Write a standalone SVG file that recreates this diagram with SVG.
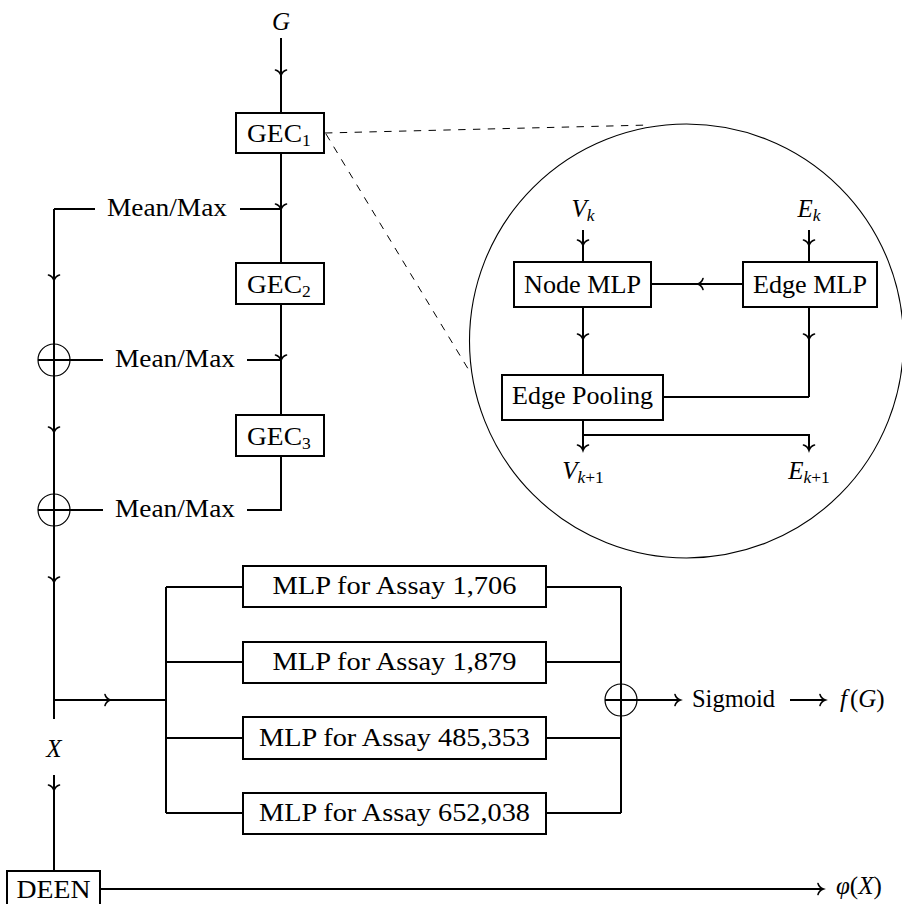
<svg xmlns="http://www.w3.org/2000/svg" width="902" height="904" viewBox="0 0 902 904">
<defs>
<marker id="ah" markerUnits="userSpaceOnUse" viewBox="-8 -8 16 16" markerWidth="16" markerHeight="16" refX="0" refY="0" orient="auto" overflow="visible">
<path d="M-5,-5.5 C-4,-2 -1.2,-0.6 0.5,0 C-1.2,0.6 -4,2 -5,5.5" fill="none" stroke="#000" stroke-width="1.6" stroke-linecap="round"/>
</marker>
</defs>
<rect width="902" height="904" fill="#fff"/>
<g id="inset">
<circle cx="686.5" cy="341" r="217" fill="none" stroke="#000" stroke-width="1.1"/>
</g>
<g id="connectors" fill="none" stroke="#000" stroke-width="2">
<g stroke-width="1" stroke-dasharray="7.4 7.4">
<path d="M325,133 L650,125"/>
<path d="M326,134 L470,372"/>
</g>
<g marker-mid="url(#ah)">
<path d="M281,38 V75 V113"/>
<path d="M281,153 V209 V263"/>
<path d="M54,209 V280 V432 V582" marker-end="url(#ah)"/>
<path d="M281,304 V360 V415"/>
<path d="M54,700 H110 H166"/>
<path d="M54,775 V790 V871"/>
<path d="M583,230 V245 V262"/>
<path d="M809,230 V245 V262"/>
<path d="M743,284 H698 H651"/>
<path d="M583,307 V339 V375"/>
<path d="M809,307 V339 V397"/>
</g>
<path d="M240,209 H281"/>
<path d="M95,209 H54"/>
<path d="M54,582 V719"/>
<path d="M247,360 H281"/>
<path d="M103,360 H38"/>
<path d="M281,456 V510 H247"/>
<path d="M103,510 H38"/>
<path d="M166,587 V813"/>
<path d="M166,587 H243 M166,662 H243 M166,738 H243 M166,813 H243"/>
<path d="M546,587 H621 M546,662 H621 M546,738 H621 M546,813 H621"/>
<path d="M621,587 V813"/>
<path d="M809,397 H663"/>
<g marker-end="url(#ah)">
<path d="M605,700 H680"/>
<path d="M790,700 H825"/>
<path d="M100,889 H823"/>
<path d="M583,420 V450"/>
<path d="M583,435 H809 V450"/>
</g>
<g stroke-width="1.2">
<circle cx="54" cy="360" r="16"/>
<circle cx="54" cy="510" r="16"/>
<circle cx="621" cy="700" r="16"/>
</g>
</g>
<g id="labels" font-family="Liberation Serif" font-size="25" fill="#000">
<text font-family="Liberation Serif" font-size="25" font-style="italic" text-anchor="middle" x="281" y="30">G</text>
<text font-family="Liberation Serif" font-size="25" text-anchor="middle" x="167" y="216" textLength="120" lengthAdjust="spacingAndGlyphs">Mean/Max</text>
<text font-family="Liberation Serif" font-size="25" text-anchor="middle" x="175" y="367" textLength="120" lengthAdjust="spacingAndGlyphs">Mean/Max</text>
<text font-family="Liberation Serif" font-size="25" text-anchor="middle" x="175" y="517" textLength="120" lengthAdjust="spacingAndGlyphs">Mean/Max</text>
<text font-family="Liberation Serif" font-size="25" font-style="italic" text-anchor="middle" x="54" y="757">X</text>
<text font-family="Liberation Serif" font-size="25" x="692" y="707" textLength="83" lengthAdjust="spacingAndGlyphs">Sigmoid</text>
<text font-family="Liberation Serif" font-size="25" x="840" y="707"><tspan font-style="italic">f</tspan><tspan dx="3">(</tspan><tspan font-style="italic">G</tspan>)</text>
<text font-family="Liberation Serif" font-size="25" x="836" y="894"><tspan font-style="italic">φ</tspan>(<tspan font-style="italic">X</tspan>)</text>
<text font-family="Liberation Serif" font-size="25" text-anchor="middle" x="583" y="217"><tspan font-style="italic">V</tspan><tspan font-style="italic" font-size="17.5" dy="4">k</tspan></text>
<text font-family="Liberation Serif" font-size="25" text-anchor="middle" x="809" y="217"><tspan font-style="italic">E</tspan><tspan font-style="italic" font-size="17.5" dy="4">k</tspan></text>
<text font-family="Liberation Serif" font-size="25" text-anchor="middle" x="583" y="479"><tspan font-style="italic">V</tspan><tspan font-style="italic" font-size="17.5" dy="4">k</tspan><tspan font-size="17.5">+1</tspan></text>
<text font-family="Liberation Serif" font-size="25" text-anchor="middle" x="809" y="479"><tspan font-style="italic">E</tspan><tspan font-style="italic" font-size="17.5" dy="4">k</tspan><tspan font-size="17.5">+1</tspan></text>
</g>
<g font-family="Liberation Serif" font-size="25">
<g id="gec1"><rect x="236" y="113" width="88" height="40" fill="#fff" stroke="#000" stroke-width="2"/><text font-family="Liberation Serif" font-size="25" x="247" y="142"><tspan textLength="55" lengthAdjust="spacingAndGlyphs">GEC</tspan><tspan font-size="17.5" dy="4">1</tspan></text></g>
<g id="gec2"><rect x="236" y="263" width="88" height="41" fill="#fff" stroke="#000" stroke-width="2"/><text font-family="Liberation Serif" font-size="25" x="247" y="293"><tspan textLength="55" lengthAdjust="spacingAndGlyphs">GEC</tspan><tspan font-size="17.5" dy="4">2</tspan></text></g>
<g id="gec3"><rect x="236" y="415" width="88" height="41" fill="#fff" stroke="#000" stroke-width="2"/><text font-family="Liberation Serif" font-size="25" x="247" y="445"><tspan textLength="55" lengthAdjust="spacingAndGlyphs">GEC</tspan><tspan font-size="17.5" dy="4">3</tspan></text></g>
<g id="mlp1706"><rect x="243" y="566" width="303" height="41" fill="#fff" stroke="#000" stroke-width="2"/><text font-family="Liberation Serif" font-size="25" text-anchor="middle" x="394.5" y="594" textLength="244" lengthAdjust="spacingAndGlyphs">MLP for Assay 1,706</text></g>
<g id="mlp1879"><rect x="243" y="642" width="303" height="41" fill="#fff" stroke="#000" stroke-width="2"/><text font-family="Liberation Serif" font-size="25" text-anchor="middle" x="394.5" y="670" textLength="244" lengthAdjust="spacingAndGlyphs">MLP for Assay 1,879</text></g>
<g id="mlp485353"><rect x="243" y="717" width="303" height="42" fill="#fff" stroke="#000" stroke-width="2"/><text font-family="Liberation Serif" font-size="25" text-anchor="middle" x="394.5" y="746" textLength="271" lengthAdjust="spacingAndGlyphs">MLP for Assay 485,353</text></g>
<g id="mlp652038"><rect x="243" y="793" width="303" height="41" fill="#fff" stroke="#000" stroke-width="2"/><text font-family="Liberation Serif" font-size="25" text-anchor="middle" x="394.5" y="821" textLength="271" lengthAdjust="spacingAndGlyphs">MLP for Assay 652,038</text></g>
<g id="deen"><rect x="7" y="871" width="93" height="40" fill="#fff" stroke="#000" stroke-width="2"/><text font-family="Liberation Serif" font-size="25" text-anchor="middle" x="53.5" y="898" textLength="74" lengthAdjust="spacingAndGlyphs">DEEN</text></g>
<g id="nodemlp"><rect x="514" y="262" width="137" height="45" fill="#fff" stroke="#000" stroke-width="2"/><text font-family="Liberation Serif" font-size="25" text-anchor="middle" x="582.5" y="293" textLength="117" lengthAdjust="spacingAndGlyphs">Node MLP</text></g>
<g id="edgemlp"><rect x="743" y="262" width="134" height="45" fill="#fff" stroke="#000" stroke-width="2"/><text font-family="Liberation Serif" font-size="25" text-anchor="middle" x="810" y="293" textLength="114" lengthAdjust="spacingAndGlyphs">Edge MLP</text></g>
<g id="edgepooling"><rect x="502" y="375" width="161" height="45" fill="#fff" stroke="#000" stroke-width="2"/><text font-family="Liberation Serif" font-size="25" text-anchor="middle" x="582.5" y="404" textLength="141" lengthAdjust="spacingAndGlyphs">Edge Pooling</text></g>
</g>
</svg>
